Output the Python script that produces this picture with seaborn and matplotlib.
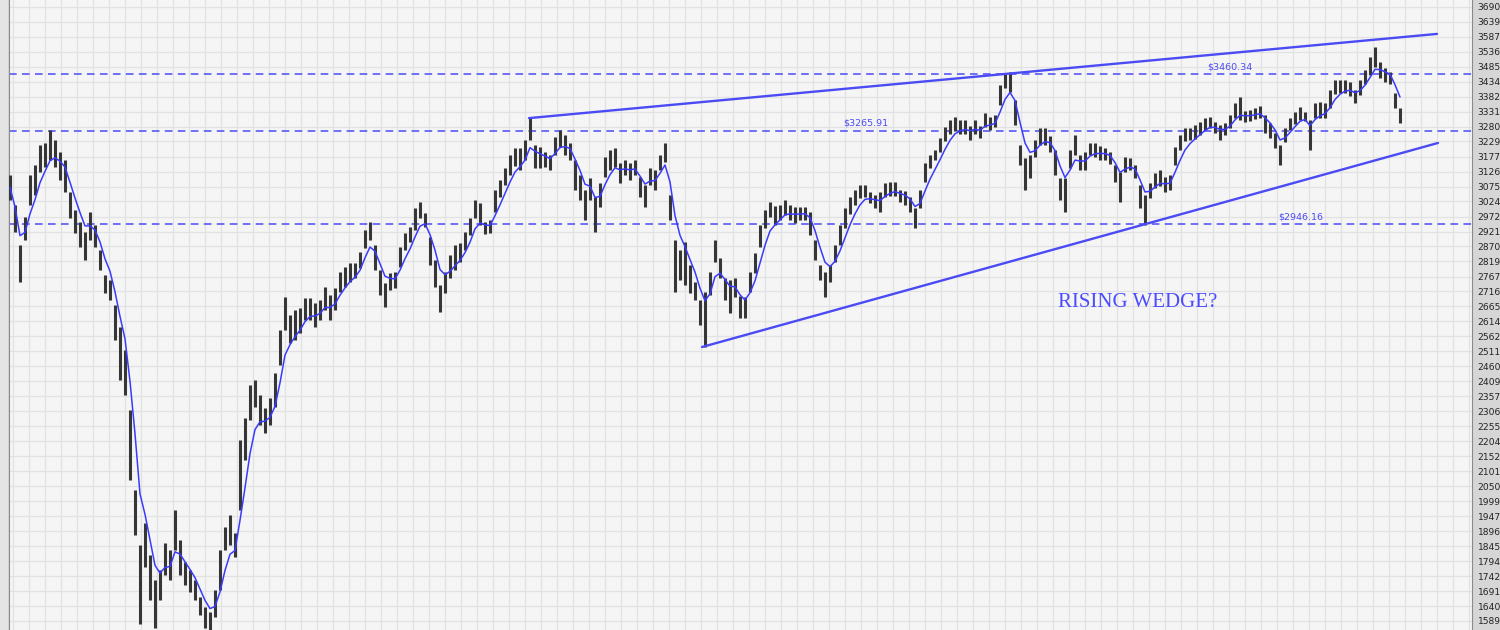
import numpy as np
import pandas as pd
import matplotlib
matplotlib.use('Agg')
import matplotlib.pyplot as plt
from matplotlib.patches import Rectangle
import seaborn as sns

# %% Data (one bar every few sessions)
bar_high = [
    3115, 3012, 2875, 2971, 3115, 3149, 3217, 3224, 3268, 3234,
    3193, 3166, 3056, 2995, 2954, 2920, 2988, 2943, 2858, 2772,
    2755, 2670, 2595, 2516, 2311, 2037, 1849, 1924, 1815, 1729,
    1764, 1856, 1832, 1969, 1866, 1791, 1764, 1729, 1671, 1637,
    1620, 1695, 1832, 1911, 1952, 1890, 2208, 2283, 2396, 2413,
    2362, 2318, 2352, 2437, 2584, 2697, 2636, 2653, 2660, 2694,
    2694, 2677, 2687, 2731, 2704, 2728, 2783, 2800, 2814, 2814,
    2851, 2926, 2954, 2875, 2790, 2745, 2779, 2783, 2868, 2916,
    2937, 3002, 3022, 2985, 2902, 2824, 2738, 2783, 2841, 2875,
    2882, 2920, 2967, 3029, 3019, 2954, 2961, 3063, 3097, 3138,
    3183, 3207, 3207, 3234, 3309, 3217, 3210, 3193, 3183, 3244,
    3268, 3251, 3224, 3166, 3115, 3063, 3104, 3039, 3087, 3176,
    3200, 3207, 3156, 3166, 3156, 3166, 3108, 3080, 3138, 3132,
    3183, 3224, 3046, 2892, 2858, 2885, 2807, 2749, 2687, 2714,
    2783, 2892, 2831, 2762, 2755, 2762, 2701, 2697, 2783, 2848,
    2943, 2995, 3022, 3008, 3012, 3029, 3012, 3005, 3005, 3005,
    2988, 2892, 2807, 2783, 2807, 2875, 2943, 3002, 3039, 3063,
    3080, 3080, 3056, 3046, 3056, 3087, 3091, 3091, 3063, 3060,
    3039, 3002, 3063, 3156, 3183, 3200, 3241, 3279, 3303, 3313,
    3303, 3303, 3282, 3303, 3282, 3327, 3313, 3320, 3422, 3463,
    3467, 3371, 3217, 3173, 3183, 3234, 3275, 3275, 3248, 3200,
    3104, 3104, 3200, 3251, 3183, 3193, 3224, 3224, 3214, 3207,
    3193, 3149, 3125, 3176, 3173, 3149, 3080, 3046, 3087, 3121,
    3132, 3108, 3115, 3210, 3251, 3275, 3275, 3285, 3296, 3309,
    3313, 3296, 3285, 3292, 3320, 3361, 3381, 3333, 3337, 3344,
    3350, 3320, 3292, 3258, 3217, 3275, 3309, 3330, 3347, 3330,
    3303, 3361, 3364, 3361, 3405, 3439, 3439, 3439, 3433, 3405,
    3439, 3474, 3518, 3552, 3501, 3480, 3467, 3395, 3344,
]
bar_low = [
    3029, 2920, 2749, 2892, 3012, 3046, 3125, 3142, 3166, 3142,
    3097, 3056, 2967, 2916, 2868, 2824, 2892, 2868, 2790, 2711,
    2687, 2550, 2413, 2362, 2071, 1883, 1580, 1774, 1661, 1565,
    1661, 1746, 1729, 1832, 1746, 1712, 1688, 1661, 1610, 1565,
    1558, 1603, 1695, 1832, 1849, 1808, 1969, 2140, 2277, 2321,
    2259, 2232, 2259, 2321, 2465, 2584, 2540, 2550, 2574, 2619,
    2619, 2595, 2619, 2653, 2619, 2653, 2714, 2731, 2749, 2762,
    2796, 2865, 2892, 2790, 2704, 2663, 2721, 2728, 2800, 2858,
    2885, 2926, 2967, 2937, 2807, 2731, 2646, 2711, 2762, 2790,
    2817, 2858, 2909, 2967, 2943, 2913, 2916, 2988, 3039, 3080,
    3115, 3145, 3132, 3166, 3234, 3138, 3138, 3142, 3132, 3183,
    3210, 3183, 3166, 3063, 3029, 2961, 3029, 2920, 3005, 3108,
    3132, 3142, 3087, 3115, 3097, 3115, 3039, 3005, 3080, 3063,
    3132, 3159, 2961, 2714, 2755, 2738, 2711, 2687, 2601, 2526,
    2704, 2817, 2762, 2687, 2643, 2697, 2625, 2625, 2714, 2779,
    2868, 2933, 2971, 2943, 2961, 2978, 2961, 2950, 2961, 2961,
    2909, 2824, 2755, 2697, 2749, 2817, 2875, 2933, 2981, 3012,
    3036, 3039, 3019, 3002, 2988, 3039, 3043, 3043, 3022, 3012,
    2988, 2933, 3002, 3091, 3138, 3166, 3193, 3231, 3255, 3265,
    3255, 3255, 3234, 3255, 3241, 3279, 3268, 3279, 3354, 3412,
    3398, 3285, 3149, 3063, 3104, 3176, 3217, 3217, 3193, 3115,
    3029, 2988, 3138, 3183, 3132, 3132, 3183, 3176, 3166, 3166,
    3152, 3091, 3022, 3125, 3132, 3104, 3002, 2943, 3036, 3070,
    3077, 3056, 3063, 3149, 3200, 3231, 3234, 3238, 3251, 3268,
    3275, 3258, 3234, 3251, 3275, 3309, 3303, 3296, 3299, 3306,
    3309, 3258, 3241, 3207, 3149, 3227, 3268, 3289, 3303, 3299,
    3200, 3309, 3309, 3309, 3344, 3392, 3395, 3395, 3385, 3361,
    3388, 3426, 3456, 3484, 3446, 3433, 3426, 3344, 3292,
]

level_values = [3460.34, 3265.91, 2946.16]
level_labels = ['$3460.34', '$3265.91', '$2946.16']

upper_wedge_bars = [103.8, 285.4]
upper_wedge_prices = [3309, 3597]
lower_wedge_bars = [138.4, 285.6]
lower_wedge_prices = [2526, 3224]

axis_labels = [3690, 3639, 3587, 3536, 3485, 3434, 3382, 3331, 3280, 3229,
               3177, 3126, 3075, 3024, 2972, 2921, 2870, 2819, 2767, 2716,
               2665, 2614, 2562, 2511, 2460, 2409, 2357, 2306, 2255, 2204,
               2152, 2101, 2050, 1999, 1947, 1896, 1845, 1794, 1742, 1691,
               1640, 1589]

# %% Frame
df = pd.DataFrame({'high': bar_high, 'low': bar_low})
df['bar'] = np.arange(len(df))
df['mid'] = (df['high'] + df['low']) / 2
df['ma'] = df['mid'].ewm(span=4).mean()

# %% Plot
sns.set_style('whitegrid', {'axes.facecolor': '#f5f5f5', 'grid.color': '#e4e4e4',
                            'axes.edgecolor': '#9a9a9a'})
plt.rcParams['font.family'] = ['DejaVu Sans']

blue = '#4b4bf5'
fig = plt.figure(figsize=(15, 6.3), dpi=100, facecolor='#d6d6d6')
fig.patches.append(Rectangle((0, 0), 8 / 1500, 1, transform=fig.transFigure,
                             facecolor='#e4e4e4', edgecolor='none'))
ax = fig.add_axes([9 / 1500, 0, 1463 / 1500, 1])

ax.vlines(df['bar'], df['low'], df['high'], color='#363636', lw=2.2, zorder=3)
sns.lineplot(data=df, x='bar', y='ma', ax=ax, color='#3a3aff', lw=1.1, zorder=4)

# price levels with their labels (label x in bar units)
label_pos = {'$3460.34': 239.4, '$3265.91': 166.6, '$2946.16': 253.6}
for val, lab in zip(level_values, level_labels):
    ax.axhline(val, color=blue, lw=1.1, dashes=(5, 3.5), zorder=2)
    ax.annotate(lab, (label_pos[lab], val), xytext=(0, 2), textcoords='offset points',
                ha='left', va='bottom', fontsize=6.8, color=blue)

sns.lineplot(x=upper_wedge_bars, y=upper_wedge_prices, ax=ax, color=blue, lw=1.7, zorder=5)
sns.lineplot(x=lower_wedge_bars, y=lower_wedge_prices, ax=ax, color=blue, lw=1.7, zorder=5)

ax.text(209.6, 2677, 'RISING WEDGE?', family='Liberation Serif', fontsize=15,
        color='#4b4bff', ha='left', va='center')

ax.set_xlim(-0.2, 292.4)
ax.set_ylim(1558, 3713)
ax.set_xticks(np.arange(0.6, 292.4, 3.2))
ax.set_xticklabels([])
ax.set_yticks(axis_labels)
ax.set_yticklabels([str(v) for v in axis_labels])
ax.yaxis.tick_right()
ax.tick_params(axis='y', length=0, pad=4, labelsize=6.6, labelcolor='#222222')
ax.tick_params(axis='x', length=0)
ax.grid(True, color='#e2e2e2', lw=0.9)
ax.set_xlabel('')
ax.set_ylabel('')
for side in ['top', 'bottom']:
    ax.spines[side].set_visible(False)
ax.spines['left'].set_color('#8a8a8a')
ax.spines['right'].set_color('#8a8a8a')

fig.savefig('out.png', dpi=100, facecolor=fig.get_facecolor())
